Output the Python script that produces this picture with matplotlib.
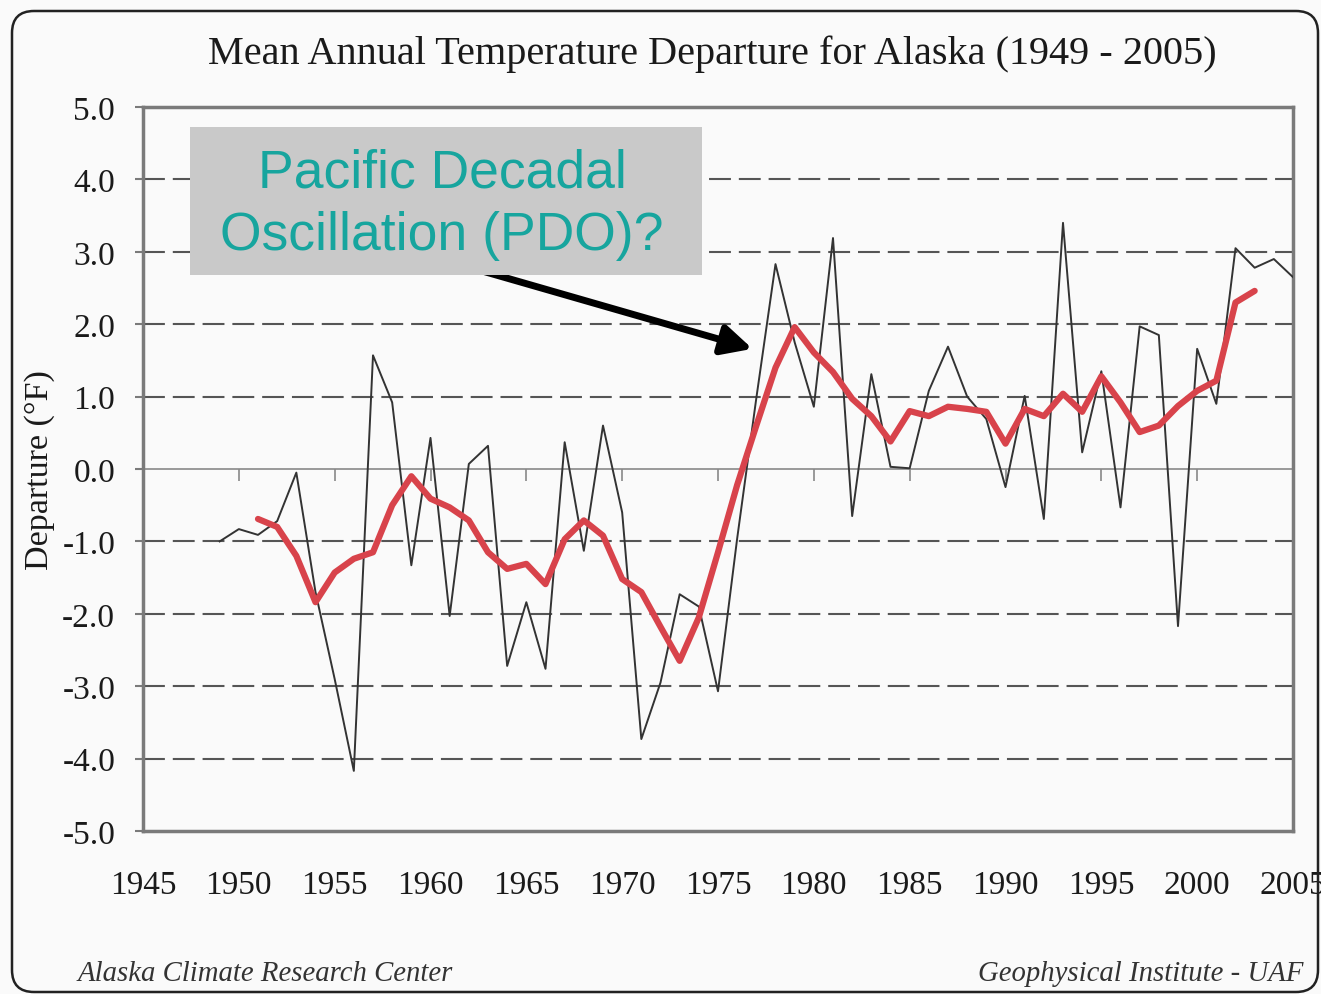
import matplotlib
matplotlib.use("Agg")
import matplotlib.pyplot as plt
from matplotlib.patches import FancyBboxPatch, Rectangle
from matplotlib.transforms import IdentityTransform

# yearly departures (°F)
years = list(range(1949, 2006))
departure = [-1.0, -0.83, -0.91, -0.72, -0.05, -1.7, -2.9, -4.17, 1.57, 0.92,
             -1.33, 0.43, -2.03, 0.07, 0.32, -2.72, -1.84, -2.76, 0.37, -1.13,
             0.6, -0.6, -3.73, -2.95, -1.73, -1.9, -3.07, -0.96, 0.98, 2.83,
             1.75, 0.86, 3.19, -0.65, 1.31, 0.03, 0.01, 1.08, 1.69, 1.0,
             0.69, -0.25, 1.01, -0.69, 3.4, 0.23, 1.35, -0.53, 1.97, 1.85,
             -2.17, 1.66, 0.9, 3.05, 2.78, 2.9, 2.65]

# smoothed curve
smooth_years = list(range(1951, 2004))
smooth = [-0.69, -0.8, -1.2, -1.84, -1.43, -1.24, -1.15, -0.5, -0.1, -0.41,
          -0.53, -0.71, -1.15, -1.38, -1.31, -1.59, -0.97, -0.71, -0.92, -1.52,
          -1.7, -2.18, -2.65, -2.05, -1.15, -0.22, 0.6, 1.4, 1.96, 1.61,
          1.34, 0.97, 0.73, 0.38, 0.8, 0.73, 0.86, 0.83, 0.79, 0.35,
          0.83, 0.73, 1.04, 0.79, 1.28, 0.92, 0.51, 0.6, 0.87, 1.08,
          1.22, 2.3, 2.46]

xticks = list(range(1945, 2010, 5))
yticks = [-5.0, -4.0, -3.0, -2.0, -1.0, 0.0, 1.0, 2.0, 3.0, 4.0, 5.0]

serif = ["Liberation Serif", "DejaVu Serif"]
bg = "#fafafa"

fig = plt.figure(figsize=(13.21, 9.95), dpi=100, facecolor=bg)
ax = fig.add_axes([143 / 1321, 1 - 832 / 995, 1150 / 1321, 724 / 995])
ax.set_facecolor(bg)
ax.set_xlim(1945, 2005)
ax.set_ylim(-5, 5)

# grid: dashed at integers, solid at zero
for v in yticks[1:-1]:
    if v == 0:
        ax.axhline(v, color="#888888", lw=1.2, zorder=1)
    else:
        ax.axhline(v, color="#555555", lw=1.5, dashes=(10.5, 3.8), zorder=1)
ax.vlines(xticks, -0.16, 0, color="#888888", lw=1.2, zorder=1)

ax.plot(years, departure, color="#333333", lw=1.4, zorder=3)
ax.plot(smooth_years, smooth, color="#d8434b", lw=4.5, zorder=4,
        solid_joinstyle="round", solid_capstyle="round")

for s in ax.spines.values():
    s.set_color("#7a7a7a")
    s.set_linewidth(2.5)

ax.set_xticks(xticks)
ax.set_xticklabels([str(x) for x in xticks], family=serif, fontsize=24)
ax.set_yticks(yticks)
ax.set_yticklabels([f"{v:.1f}" for v in yticks], family=serif, fontsize=24)
ax.tick_params(axis="x", length=0, pad=28, colors="#1a1a1a")
ax.tick_params(axis="y", length=6, width=1.5, color="#7a7a7a", pad=14,
               labelcolor="#1a1a1a")

# annotation box + arrow
ax.annotate("", xy=(1976.8, 1.66), xytext=(1962.5, 2.75),
            arrowprops=dict(arrowstyle="-|>", lw=5, color="black",
                            mutation_scale=45, shrinkA=0, shrinkB=0),
            zorder=5)
ax.add_patch(Rectangle((0.041, 0.768), 0.445, 0.2045, transform=ax.transAxes,
                       facecolor="#c9c9c9", edgecolor="none", zorder=6))
ax.text(0.2600, 0.866, "Pacific Decadal\nOscillation (PDO)?",
        transform=ax.transAxes, ha="center", va="center", fontsize=38.5,
        family="Liberation Sans", color="#17a59e", zorder=7, linespacing=1.33)

fig.text(712 / 1321, 1 - 54 / 995,
         "Mean Annual Temperature Departure for Alaska (1949 - 2005)",
         ha="center", va="center", family=serif, fontsize=29, color="#1a1a1a")
fig.text(40 / 1321, 1 - 470 / 995, "Departure (°F)", rotation=90,
         ha="center", va="center", family=serif, fontsize=24.5, color="#1a1a1a")
fig.text(78 / 1321, 1 - 974 / 995, "Alaska Climate Research Center",
         ha="left", va="center", family=serif, style="italic", fontsize=20.7,
         color="#333333")
fig.text(1303 / 1321, 1 - 974 / 995, "Geophysical Institute - UAF",
         ha="right", va="center", family=serif, style="italic", fontsize=20.7,
         color="#333333")

# outer rounded frame (pixel coords)
fig.patches.append(FancyBboxPatch((12, 2), 1306, 981,
                                  boxstyle="round,pad=0,rounding_size=22",
                                  transform=IdentityTransform(),
                                  facecolor="none", edgecolor="#222222", lw=1.8))

fig.savefig("out.png", dpi=100, facecolor=bg)
